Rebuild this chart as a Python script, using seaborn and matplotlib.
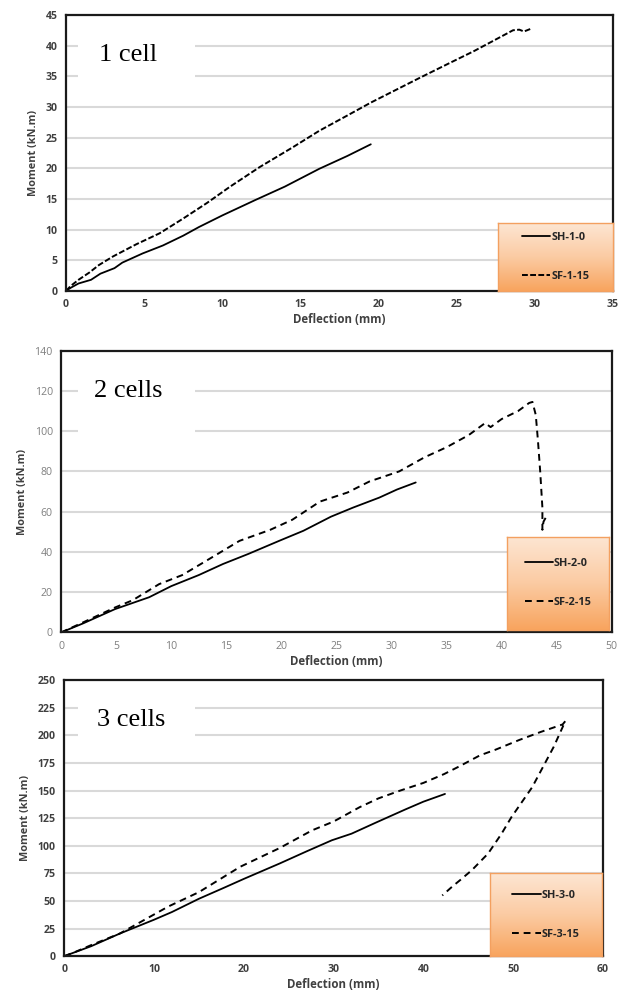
import matplotlib
matplotlib.use("Agg")
import matplotlib.pyplot as plt
import seaborn as sns
import numpy as np
from matplotlib.patches import Rectangle

sns.set_theme(style="white")
plt.rcParams['font.family'] = ['Open Sans', 'DejaVu Sans']

# ---- data ----
# panel 1 (1 cell)
p1_sh_x = [0, 0.3, 0.8, 1.6, 2.2, 3.1, 3.6, 4.9, 6.2, 7.5, 8.5, 10.0, 12.1, 14.0, 16.2, 18.0, 19.5]
p1_sh_y = [0, 0.5, 1.2, 1.8, 2.8, 3.7, 4.6, 6.1, 7.4, 9.0, 10.4, 12.3, 14.8, 17.0, 19.9, 22.0, 23.9]
p1_sf_x = [0, 0.3, 0.8, 1.5, 2.1, 3.0, 4.5, 6.0, 7.5, 9.0, 10.5, 12.4, 14.5, 16.2, 18.0, 19.5,
           22.6, 24.5, 26.1, 27.5, 28.6, 29.0, 29.3, 29.7]
p1_sf_y = [0, 0.8, 1.8, 3.0, 4.2, 5.6, 7.6, 9.4, 11.8, 14.3, 17.0, 20.2, 23.4, 26.1, 28.6, 30.7,
           34.7, 37.1, 39.1, 41.0, 42.5, 42.6, 42.3, 42.7]

# panel 2 (2 cells)
p2_sh_x = [0, 2, 4.9, 8, 10, 12.5, 14.7, 17, 19.8, 22, 24.5, 26.5, 28.9, 30.5, 32.2]
p2_sh_y = [0, 4.5, 11.6, 17.5, 23, 28.5, 34, 39, 45.5, 50.5, 57.5, 62, 67, 71, 74.5]
p2_sf_x = [0, 2, 4.9, 6.5, 8.9, 11, 13, 16.2, 19, 21, 23.5, 26, 28, 30.7, 33, 35, 37, 38.5, 39,
           40, 41.5, 42.5, 42.8, 43.1, 43.3, 43.5, 43.7, 43.7, 43.8, 44.0]
p2_sf_y = [0, 5, 12.4, 16, 24, 28.5, 35, 45.5, 51, 56, 65, 69.5, 75, 80, 87, 92, 98, 104, 102,
           106, 110, 114, 114.5, 108, 95, 80, 62, 51, 55, 57]

# panel 3 (3 cells)
p3_sh_x = [0, 1, 3, 6.2, 10, 12, 15, 17.8, 20, 24, 27, 29.8, 32, 34.7, 38, 40, 42.4]
p3_sh_y = [0, 3, 9, 20.5, 33, 40, 52, 62, 70, 84, 95, 105, 111, 121, 133, 140, 147]
p3_sf_x = [0, 1, 3, 6.2, 11.6, 15, 19.6, 24, 27.6, 30, 32.9, 35, 37.4, 40, 42.3, 44, 46.3, 48,
           50.7, 53, 55.5, 55.8, 54.5, 52.1, 49.8, 48.7, 47.2, 45.4, 44.1, 43.2, 42.1]
p3_sf_y = [0, 3, 10, 20.5, 45, 58, 81, 98, 114, 122, 135, 143, 150, 157, 165, 172, 182, 187,
           196, 203, 210, 213, 189.6, 153, 126, 111, 93, 78, 69, 63, 55]

panels = [
    dict(title="1 cell", sh=(p1_sh_x, p1_sh_y), sf=(p1_sf_x, p1_sf_y),
         labels=("SH-1-0", "SF-1-15"), xlim=(0, 35), xstep=5, ylim=(0, 45), ystep=5,
         rect=[0.106, 0.708, 0.878, 0.277], leg=[0.79, 0.0, 0.21, 0.246],
         box=[0.022, 0.71, 0.214, 0.245], dash=(0, (3, 1.2)), bold=True),
    dict(title="2 cells", sh=(p2_sh_x, p2_sh_y), sf=(p2_sf_x, p2_sf_y),
         labels=("SH-2-0", "SF-2-15"), xlim=(0, 50), xstep=5, ylim=(0, 140), ystep=20,
         rect=[0.098, 0.365, 0.884, 0.283], leg=[0.81, 0.01, 0.185, 0.33],
         box=[0.031, 0.643, 0.212, 0.287], dash=(0, (3.5, 2.5)), bold=False),
    dict(title="3 cells", sh=(p3_sh_x, p3_sh_y), sf=(p3_sf_x, p3_sf_y),
         labels=("SH-3-0", "SF-3-15"), xlim=(0, 60), xstep=10, ylim=(0, 250), ystep=25,
         rect=[0.103, 0.040, 0.865, 0.277], leg=[0.79, 0.0, 0.208, 0.30],
         box=[0.026, 0.752, 0.217, 0.2], dash=(0, (3.5, 2.5)), bold=True),
]

fig = plt.figure(figsize=(6.23, 9.96), dpi=100)

# vertical orange gradient used in the legend boxes
grad = np.linspace(0, 1, 256).reshape(-1, 1)
orange = matplotlib.colors.LinearSegmentedColormap.from_list(
    "peach", ["#fde6d3", "#fbcba3", "#f8a45e"])

for p in panels:
    ax = fig.add_axes(p["rect"])
    sns.lineplot(x=p["sh"][0], y=p["sh"][1], sort=False, estimator=None, ax=ax,
                 color="black", linewidth=1.3, label=p["labels"][0])
    sns.lineplot(x=p["sf"][0], y=p["sf"][1], sort=False, estimator=None, ax=ax,
                 color="black", linewidth=1.4, linestyle=p["dash"], label=p["labels"][1])

    ax.set_xlim(*p["xlim"])
    ax.set_ylim(*p["ylim"])
    ax.set_xticks(np.arange(p["xlim"][0], p["xlim"][1] + 0.1, p["xstep"]))
    ax.set_yticks(np.arange(p["ylim"][0], p["ylim"][1] + 0.1, p["ystep"]))
    ax.yaxis.grid(True, color="#d9d9d9", linewidth=1.5)
    ax.xaxis.grid(False)
    ax.set_axisbelow(True)
    for s in ax.spines.values():
        s.set_color("#1a1a1a")
        s.set_linewidth(1.6)

    wt = "bold" if p["bold"] else "normal"
    tc = "#404040" if p["bold"] else "#7f7f7f"
    ax.tick_params(axis="both", length=0, pad=6, labelsize=7.6, labelcolor=tc)
    for lab in ax.get_xticklabels() + ax.get_yticklabels():
        lab.set_fontweight(wt)

    ax.set_xlabel("Deflection (mm)", fontsize=8.3, fontweight="bold", color="#404040", labelpad=2)
    ax.set_ylabel("Moment (kN.m)", fontsize=7.8, fontweight="bold", color="#404040", labelpad=5)

    # white label box that hides the gridlines behind the panel title
    ax.add_patch(Rectangle((p["box"][0], p["box"][1]), p["box"][2], p["box"][3],
                           transform=ax.transAxes, facecolor="white", edgecolor="none", zorder=2))
    ax.text(0.06, 0.855, p["title"], transform=ax.transAxes, ha="left", va="center",
            fontsize=19, family="Liberation Serif", color="black", zorder=3)

    handles, labels = ax.get_legend_handles_labels()
    if ax.legend_ is not None:
        ax.legend_.remove()

    inset = ax.inset_axes(p["leg"])
    inset.imshow(grad, aspect="auto", cmap=orange, extent=[0, 1, 0, 1])
    inset.set_xticks([])
    inset.set_yticks([])
    for s in inset.spines.values():
        s.set_color("#f3a060")
        s.set_linewidth(1.0)
    leg = inset.legend(handles, labels, loc="center", frameon=False, fontsize=7.8,
                       handlelength=2.6, handletextpad=0.1, labelspacing=2.6,
                       borderaxespad=0)
    for t in leg.get_texts():
        t.set_fontweight("bold")
        t.set_color("#262626")

fig.savefig("out.png", dpi=100)
